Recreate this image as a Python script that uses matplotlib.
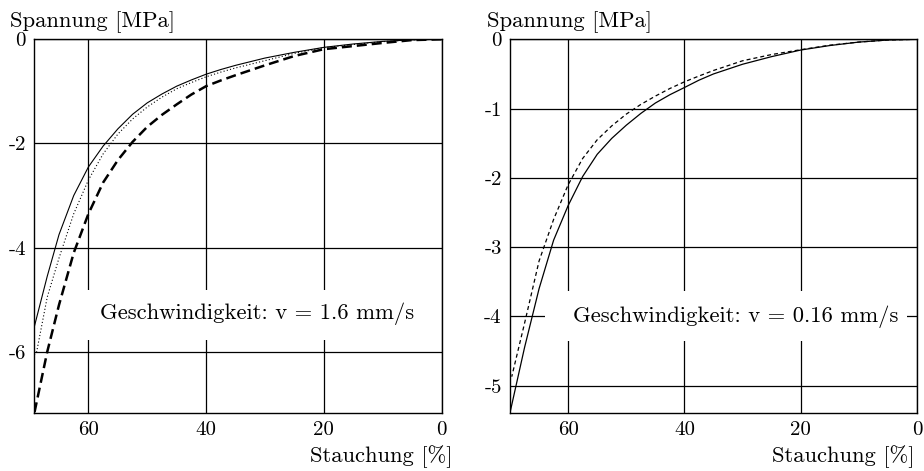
import matplotlib
matplotlib.use("Agg")
import matplotlib.pyplot as plt
from matplotlib.patches import Rectangle

plt.rcParams["font.family"] = ["cmr10", "DejaVu Serif"]
plt.rcParams["axes.unicode_minus"] = False

# --- data: compression [%] vs. stress [MPa] ---
# v = 1.6 mm/s (three specimens)
x_a1 = [0, 5, 10, 15, 20, 25, 30, 35, 37.5, 40, 42.5, 45, 47.5, 50, 52.5, 55, 57.5,
        60, 62.5, 65, 67, 69.2]
y_a1 = [0, -0.01, -0.04, -0.09, -0.155, -0.25, -0.36, -0.5, -0.58, -0.67, -0.78,
        -0.9, -1.05, -1.22, -1.44, -1.72, -2.05, -2.45, -3.0, -3.75, -4.55, -5.52]
x_a2 = [0, 5, 10, 15, 20, 25, 30, 35, 37.5, 40, 42.5, 45, 47.5, 50, 52.5, 55, 57.5,
        60, 62.5, 65, 67, 68.8, 69.2]
y_a2 = [0, -0.01, -0.045, -0.1, -0.16, -0.27, -0.41, -0.55, -0.63, -0.72, -0.83,
        -0.95, -1.11, -1.3, -1.53, -1.82, -2.2, -2.7, -3.35, -4.2, -4.95, -6.0, -6.06]
x_a3 = [0, 5, 10, 15, 20, 25, 30, 35, 37.5, 40, 42.5, 45, 47.5, 50, 52.5, 55, 57.5,
        60, 62.5, 65, 67, 69.2]
y_a3 = [0, -0.015, -0.07, -0.13, -0.19, -0.32, -0.5, -0.69, -0.79, -0.9, -1.06,
        -1.25, -1.45, -1.68, -1.97, -2.32, -2.75, -3.35, -4.1, -5.1, -6.0, -7.18]

# v = 0.16 mm/s (two specimens)
x_b1 = [0, 5, 10, 15, 20, 25, 30, 35, 37.5, 40, 42.5, 45, 47.5, 50, 52.5, 55, 57.5,
        60, 62.5, 65, 67.5, 70]
y_b1 = [0, -0.01, -0.04, -0.09, -0.155, -0.25, -0.36, -0.5, -0.59, -0.696, -0.8,
        -0.92, -1.07, -1.24, -1.43, -1.66, -1.98, -2.4, -2.9, -3.6, -4.45, -5.39]
x_b2 = [0, 5, 10, 15, 20, 25, 30, 35, 37.5, 40, 42.5, 45, 47.5, 50, 52.5, 55, 57.5,
        60, 62.5, 65, 67.5, 69.7]
y_b2 = [0, -0.01, -0.04, -0.085, -0.15, -0.22, -0.31, -0.45, -0.53, -0.614, -0.71,
        -0.82, -0.94, -1.08, -1.25, -1.45, -1.72, -2.1, -2.6, -3.2, -4.1, -4.87]

x_ticks = [60, 40, 20, 0]
x_ticklabels = ["60", "40", "20", "0"]
y_ticks_a = [0, -2, -4, -6]
y_ticklabels_a = ["0", "-2", "-4", "-6"]
y_ticks_b = [0, -1, -2, -3, -4, -5]
y_ticklabels_b = ["0", "-1", "-2", "-3", "-4", "-5"]

label_a = "Geschwindigkeit: v = 1.6 mm/s"
label_b = "Geschwindigkeit: v = 0.16 mm/s"
ylabel = "Spannung [MPa]"
xlabel = "Stauchung [%]"

W, H = 924, 471
fig = plt.figure(figsize=(W / 100, H / 100), dpi=100)


def fx(px):
    return px / W


def fy(py):
    return 1 - py / H


ax_a = fig.add_axes([fx(34.3), fy(412.7), fx(441.5 - 34.3), (412.7 - 39.3) / H])
ax_b = fig.add_axes([fx(510), fy(412.7), fx(917 - 510), (412.7 - 39.3) / H])

FS_TICK = 15
FS = 16.3

for ax, xl, yl, yt, ytl in [
    (ax_a, (69.2, 0), (-7.17, 0), y_ticks_a, y_ticklabels_a),
    (ax_b, (70, 0), (-5.39, 0), y_ticks_b, y_ticklabels_b),
]:
    ax.set_xlim(*xl)
    ax.set_ylim(*yl)
    ax.set_xticks(x_ticks)
    ax.set_xticklabels(x_ticklabels)
    ax.set_yticks(yt)
    ax.set_yticklabels(ytl)
    ax.tick_params(length=0, labelsize=FS_TICK, pad=6)
    ax.grid(True, color="black", lw=0.9)
    ax.set_axisbelow(True)
    for s in ax.spines.values():
        s.set_linewidth(1.0)
        s.set_zorder(5)

# left panel curves
ax_a.plot(x_a1, y_a1, color="black", lw=0.8, zorder=3)
ax_a.plot(x_a2, y_a2, color="black", lw=0.8, ls=(0, (1, 2)), zorder=3)
ax_a.plot(x_a3, y_a3, color="black", lw=1.8, ls=(0, (4, 2)), zorder=3)

# right panel curves
ax_b.plot(x_b1, y_b1, color="black", lw=0.9, zorder=3)
ax_b.plot(x_b2, y_b2, color="black", lw=0.9, ls=(0, (3.2, 2.4)), zorder=3)

# white label boxes over the grid (x axes run from right to left)
ax_a.add_patch(Rectangle((2.9, -5.78), 62.8 - 2.9, 5.78 - 4.82,
                         facecolor="white", edgecolor="none", zorder=2))
ax_b.add_patch(Rectangle((1.7, -4.36), 64.0 - 1.7, 4.36 - 3.63,
                         facecolor="white", edgecolor="none", zorder=2))

fig.text(fx(257.5), fy(319), label_a, fontsize=FS, ha="center", va="baseline")
fig.text(fx(736), fy(322), label_b, fontsize=FS, ha="center", va="baseline")

for x0 in (10, 486.7):
    fig.text(fx(x0), fy(27), ylabel, fontsize=FS, ha="left", va="baseline")
fig.text(fx(453), fy(461.7), xlabel, fontsize=FS, ha="right", va="baseline")
fig.text(fx(915), fy(461.7), xlabel, fontsize=FS, ha="right", va="baseline")

fig.savefig("out.png", dpi=100)
